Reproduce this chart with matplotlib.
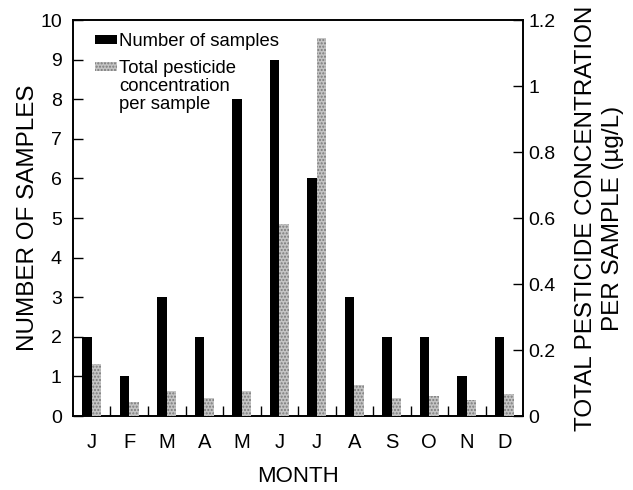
import numpy as np
import matplotlib
matplotlib.use("Agg")
from matplotlib import pyplot as plt
from matplotlib.patches import Patch

plt.rcParams['font.family'] = ['Liberation Sans', 'DejaVu Sans']

months = ['J', 'F', 'M', 'A', 'M', 'J', 'J', 'A', 'S', 'O', 'N', 'D']
n_samples = [2, 1, 3, 2, 8, 9, 6, 3, 2, 2, 1, 2]
conc = [0.158, 0.042, 0.075, 0.055, 0.075, 0.582, 1.146, 0.093, 0.055, 0.06, 0.05, 0.066]

grey = '#c4c4c4'

fig = plt.figure(figsize=(6.33, 4.9), dpi=100)
ax = fig.add_axes([0.1153, 0.151, 0.711, 0.808])
ax2 = ax.twinx()

x = np.arange(len(months))
ax.bar(x + 0.25, n_samples, width=0.25, align='edge', color='black', zorder=3)
ax2.bar(x + 0.5, conc, width=0.25, align='edge', color=grey,
        hatch='.....', edgecolor='#7a7a7a', linewidth=0, zorder=3)

ax.set_xlim(0, 12)
ax.set_ylim(0, 10)
ax2.set_ylim(0, 1.2)

ax.set_xticks(x + 0.5)
ax.set_xticklabels(months)
ax.set_xticks(np.arange(1, 12), minor=True)
ax.tick_params(axis='x', which='major', length=0, pad=12, labelsize=14.5)
ax.tick_params(axis='x', which='minor', direction='in', length=7, width=1)
ax.set_yticks(range(0, 11))
ax.tick_params(axis='y', direction='in', length=7, width=1, labelsize=14, pad=8)
ax2.set_yticks([0, 0.2, 0.4, 0.6, 0.8, 1.0, 1.2])
ax2.set_yticklabels(['0', '0.2', '0.4', '0.6', '0.8', '1', '1.2'])
ax2.tick_params(axis='y', direction='in', length=7, width=1, labelsize=14, pad=4)

for a in (ax, ax2):
    for s in a.spines.values():
        s.set_linewidth(1.2)

ax.set_xlabel('MONTH', fontsize=16, labelpad=10)
ax.set_ylabel('NUMBER OF SAMPLES', fontsize=17.5, labelpad=1)
ax2.set_ylabel('TOTAL PESTICIDE CONCENTRATION\nPER SAMPLE (\u00b5g/L)', fontsize=17.5,
               labelpad=14, linespacing=1.28)

# legend: two pieces so the grey swatch sits on the first line of its label
leg_kw = dict(loc='upper left', frameon=False, fontsize=13.3, handlelength=1.2,
              handleheight=0.38, handletextpad=0.1, borderpad=0, borderaxespad=0)
leg1 = ax.legend([Patch(facecolor='black')], ['Number of samples'],
                 bbox_to_anchor=(0.049, 0.967), **leg_kw)
ax.add_artist(leg1)
blank = Patch(facecolor='none', edgecolor='none')
leg2 = ax.legend([Patch(facecolor=grey, hatch='.....', edgecolor='#7a7a7a', linewidth=0), blank, blank],
                 ['Total pesticide', 'concentration', 'per sample'],
                 bbox_to_anchor=(0.049, 0.90), labelspacing=0.07, **leg_kw)

fig.savefig('out.png', dpi=100)
